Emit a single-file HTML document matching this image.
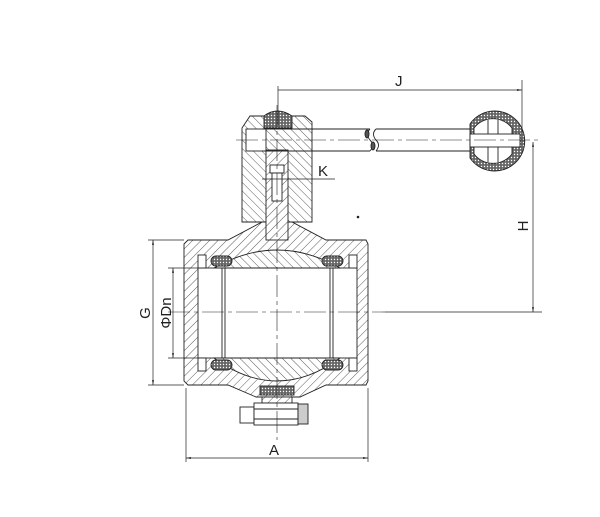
<!DOCTYPE html>
<html><head><meta charset="utf-8"><style>
html,body{margin:0;padding:0;background:#fff;}
svg{display:block;}
text{font-family:"Liberation Sans",sans-serif;fill:#222;}
</style></head><body>
<svg width="600" height="517" viewBox="0 0 600 517" xmlns="http://www.w3.org/2000/svg">
<defs>
<pattern id="h" patternUnits="userSpaceOnUse" width="6" height="6" patternTransform="rotate(45)">
<rect width="6" height="6" fill="#fff"/><line x1="0" y1="0" x2="0" y2="6" stroke="#333" stroke-width="0.8"/></pattern>
<pattern id="h2" patternUnits="userSpaceOnUse" width="6" height="6" patternTransform="rotate(-45)">
<rect width="6" height="6" fill="#fff"/><line x1="0" y1="0" x2="0" y2="6" stroke="#333" stroke-width="0.8"/></pattern>
<pattern id="x" patternUnits="userSpaceOnUse" width="3" height="3">
<rect width="3" height="3" fill="#666"/><circle cx="1.5" cy="1.5" r="0.7" fill="#fff"/></pattern>
<marker id="a" viewBox="0 0 10 10" refX="10" refY="5" markerWidth="7" markerHeight="7" orient="auto-start-reverse"><path d="M0,3 L10,5 L0,7z" fill="#222"/></marker>
</defs>
<g stroke="#222" stroke-width="0.9" fill="none">
<path d="M184,244 L188,240 L228,240 L262,222 L292,222 L326,240 L366,240 L368,244 L368,381 L366,385 L326,385 L300,397 L256,397 L228,385 L188,385 L184,381 Z" fill="url(#h)"/>
<rect x="198" y="268" width="159" height="90" fill="#fff"/>
<path d="M214,268 Q277,232 340,268 Z" fill="url(#h2)"/>
<path d="M214,358 Q277,404 340,358 Z" fill="url(#h2)"/>
<line x1="222" y1="268" x2="222" y2="358"/><line x1="225" y1="268" x2="225" y2="358"/>
<line x1="330" y1="268" x2="330" y2="358"/><line x1="333" y1="268" x2="333" y2="358"/>
<rect x="198" y="255" width="8" height="13" fill="#fff"/><rect x="349" y="255" width="8" height="13" fill="#fff"/>
<rect x="198" y="358" width="8" height="13" fill="#fff"/><rect x="349" y="358" width="8" height="13" fill="#fff"/>
<rect x="211" y="256" width="21" height="10" rx="5" fill="url(#x)"/>
<rect x="322" y="256" width="21" height="10" rx="5" fill="url(#x)"/>
<rect x="211" y="360" width="21" height="10" rx="5" fill="url(#x)"/>
<rect x="322" y="360" width="21" height="10" rx="5" fill="url(#x)"/>
<rect x="260" y="386" width="34" height="9" fill="url(#x)"/>
<rect x="262" y="397" width="30" height="6" fill="url(#h)"/>
<rect x="240" y="407" width="14" height="16" fill="#fff"/>
<rect x="254" y="403" width="44" height="22" fill="#fff"/>
<rect x="298" y="404" width="10" height="20" fill="#ccc"/>
<line x1="254" y1="409" x2="298" y2="409"/><line x1="254" y1="419" x2="298" y2="419"/>
<path d="M242,128 L242,222 L312,222 L312,122 L305,116 L250,116 Z" fill="url(#h2)"/>
<path d="M264,116 Q277,106 292,116 L292,128 L264,128 Z" fill="url(#x)"/>
<rect x="266" y="150" width="22" height="90" fill="url(#h)"/>
<rect x="270" y="165" width="14" height="8" fill="#fff"/>
<rect x="272" y="173" width="10" height="28" fill="#fff"/>
<rect x="246" y="129" width="20" height="22" fill="#fff"/>
<path d="M262,129 L370,129 M262,151 L370,151"/>
<path d="M376,129 L470,129 M376,151 L470,151"/>
<path d="M370,129 q-5,5 0,11 q5,5 0,11"/>
<path d="M376,129 q-5,5 0,11 q5,5 0,11"/>
<ellipse cx="367" cy="134" rx="2" ry="4" fill="#555"/><ellipse cx="373" cy="146" rx="2" ry="4" fill="#555"/>
<path d="M470,124 A30,30 0 1 1 470,158 Z" fill="url(#x)"/>
<path d="M474,128 A24,24 0 0 1 512,128 L512,154 A24,24 0 0 1 474,154 Z" fill="#fff"/>
<line x1="488" y1="120" x2="488" y2="162"/><line x1="498" y1="120" x2="498" y2="162"/>
<rect x="470" y="134" width="50" height="13" fill="#fff"/>
<g stroke-dasharray="22,4,4,4" stroke-width="0.6">
<line x1="277" y1="105" x2="277" y2="440"/>
<line x1="168" y1="312" x2="385" y2="312"/>
<line x1="236" y1="140" x2="540" y2="140"/>
</g>
<line x1="385" y1="312" x2="542" y2="312" stroke-width="0.7"/>
<g stroke-width="0.7">
<line x1="278" y1="86" x2="278" y2="125"/><line x1="522" y1="80" x2="522" y2="132"/>
<line x1="278" y1="90" x2="522" y2="90" marker-end="url(#a)"/>
<line x1="533" y1="142" x2="533" y2="312" marker-start="url(#a)" marker-end="url(#a)"/>
<line x1="148" y1="240" x2="184" y2="240"/><line x1="148" y1="385" x2="184" y2="385"/>
<line x1="153" y1="240" x2="153" y2="385" marker-start="url(#a)" marker-end="url(#a)"/>
<line x1="168" y1="268" x2="198" y2="268"/><line x1="168" y1="358" x2="198" y2="358"/>
<line x1="173" y1="268" x2="173" y2="358" marker-start="url(#a)" marker-end="url(#a)"/>
<line x1="186" y1="388" x2="186" y2="462"/><line x1="368" y1="388" x2="368" y2="462"/>
<line x1="186" y1="458" x2="368" y2="458" marker-start="url(#a)" marker-end="url(#a)"/>
<line x1="262" y1="179" x2="335" y2="179"/>
</g>
</g>
<circle cx="358" cy="217" r="1.3" fill="#222"/>
<text x="395" y="86" font-size="15">J</text>
<text x="318" y="176" font-size="15">K</text>
<text x="269" y="455" font-size="15">A</text>
<text transform="translate(528,226) rotate(-90)" font-size="15" text-anchor="middle">H</text>
<text transform="translate(150,313) rotate(-90)" font-size="15" text-anchor="middle">G</text>
<text transform="translate(171,313) rotate(-90)" font-size="15" text-anchor="middle">ΦDn</text>
</svg>
</body></html>
